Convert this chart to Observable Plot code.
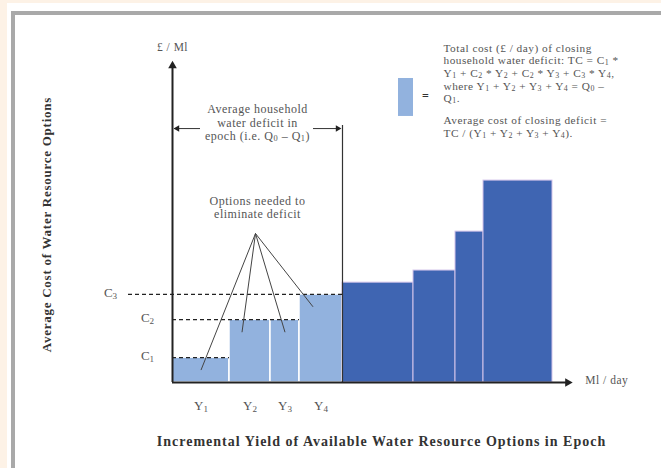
<!DOCTYPE html>
<html>
<head>
<meta charset="utf-8">
<script src="https://cdn.jsdelivr.net/npm/d3@7"></script>
<script src="https://cdn.jsdelivr.net/npm/@observablehq/plot@0.6"></script>
<style>
  html, body { margin: 0; padding: 0; }
  body { width: 661px; height: 468px; background: #fdf2e6; position: relative; overflow: hidden; }
  #paper { position: absolute; left: 7px; top: 3px; width: 660px; height: 470px; background: #fff; }
  #frame { position: absolute; left: 11px; top: 11px; width: 660px; height: 470px;
           border-left: 4px solid #a9a9a9; border-top: 4px solid #a9a9a9; }
  #chart { position: absolute; left: 0; top: 0; }
</style>
</head>
<body>
<div id="paper"></div>
<div id="frame"></div>
<div id="chart"></div>
<script>
// ---- data ----
const optionLabels = ["Y₁", "Y₂", "Y₃", "Y₄", "", "", "", ""];
const yieldBounds = [0, 14.25, 24.5, 31.75, 42.5, 60.25, 70.75, 77.75, 95];
const optionCosts = [7.8, 19.7, 19.7, 27.6, 31.3, 35.1, 47.3, 63.3];
const neededForDeficit = [true, true, true, true, false, false, false, false];
const costLabels = ["C₁", "C₂", "C₃"];
const costLevels = [7.8, 19.7, 27.6];
const deficitYield = 42.5;

const options = optionCosts.map((c, i) => ({
  label: optionLabels[i], x1: yieldBounds[i], x2: yieldBounds[i + 1], cost: c, needed: neededForDeficit[i]
}));
const needed = options.filter(d => d.needed);
const others = options.filter(d => !d.needed);

// dashed cost guides: each C level extends from the axis to the end of its last option
const guides = costLevels.map((c, i) => {
  const last = options.filter(d => d.needed && d.cost === c).pop();
  return {label: costLabels[i], c, from: i === 2 ? -11 : 0, to: last.x2};
});

const FONT = "Liberation Serif, Times New Roman, serif";
const TXT = "#555";

const apex = {x: 20.75, y: 46.7};
const pointerTargets = needed.map((d, i) => ({
  x: (d.x1 + d.x2) / 2 + [0, -2, 0, -2][i], y: d.cost * [0.5, 0.8, 0.8, 0.86][i]
}));

const legendText1 = "Total cost (£ / day) of closing\nhousehold water deficit: TC = C₁ *\nY₁ + C₂ * Y₂ + C₂ * Y₃ + C₃ * Y₄,\nwhere Y₁ + Y₂ + Y₃ + Y₄ = Q₀ –\nQ₁.";
const legendText2 = "Average cost of closing deficit =\nTC / (Y₁ + Y₂ + Y₃ + Y₄).";

const chart = Plot.plot({
  width: 661,
  height: 468,
  marginLeft: 172,
  marginRight: 89,
  marginTop: 63,
  marginBottom: 86,
  x: {domain: [0, 100], axis: null},
  y: {domain: [0, 100], axis: null},
  style: {background: "transparent", fontFamily: FONT, overflow: "visible"},
  marks: [
    // bars
    Plot.rect(needed, {x1: "x1", x2: "x2", y1: 0, y2: "cost", fill: "#92b2de", stroke: "#ffffff", strokeWidth: 1.5, inset: 0}),
    Plot.rect(others, {x1: "x1", x2: "x2", y1: 0, y2: "cost", fill: "#3f65b2", stroke: "#d3c4ea", strokeWidth: 1, inset: 0}),
    // dashed cost guides
    Plot.ruleY(guides, {y: "c", x1: "from", x2: "to", stroke: "#222", strokeWidth: 1.3, strokeDasharray: "4,3"}),
    Plot.text(guides, {x: d => d.from === 0 ? -6.25 : -15.5, y: "c", text: "label", dy: -2, fontSize: 13, fill: TXT, fontFamily: FONT}),
    // deficit boundary
    Plot.ruleX([deficitYield], {y1: 0, y2: 80.6, stroke: "#333", strokeWidth: 1.2}),
    // axes
    Plot.ruleX([0], {y1: 0, y2: 99, stroke: "#222", strokeWidth: 2}),
    Plot.ruleY([0], {x1: 0, x2: 98.5, stroke: "#222", strokeWidth: 2}),
    Plot.dot([[0, 99.3]], {x: d => d[0], y: d => d[1], symbol: "triangle", r: 3.2, fill: "#222", stroke: "none"}),
    Plot.dot([[98.8, 0]], {x: d => d[0], y: d => d[1], symbol: "triangle", r: 3.2, fill: "#222", stroke: "none", rotate: 90}),
    Plot.text(["£ / Ml"], {x: 0, y: 105, text: d => d, fontSize: 11.5, fill: TXT, fontFamily: FONT, ariaDescription: "wide"}),
    Plot.text(["Ml / day"], {x: 103.2, y: 0.6, text: d => d, textAnchor: "start", fontSize: 11.5, fill: TXT, fontFamily: FONT, ariaDescription: "wide"}),
    // option labels under bars
    Plot.text(needed, {x: d => (d.x1 + d.x2) / 2, y: -7.2, text: "label", fontSize: 13, fill: TXT, fontFamily: FONT}),
    // deficit arrow
    Plot.ruleY([79.6], {x1: 0.5, x2: 7, stroke: "#333", strokeWidth: 1}),
    Plot.ruleY([79.6], {x1: 35.25, x2: 42, stroke: "#333", strokeWidth: 1}),
    Plot.dot([[1.2, 79.6]], {x: d => d[0], y: d => d[1], symbol: "triangle", r: 2.4, fill: "#222", stroke: "none", rotate: -90}),
    Plot.dot([[41.3, 79.6]], {x: d => d[0], y: d => d[1], symbol: "triangle", r: 2.4, fill: "#222", stroke: "none", rotate: 90}),
    Plot.text(["Average household\nwater deficit in\nepoch (i.e. Q₀ – Q₁)"], {x: 21.25, y: 81.5, text: d => d, fontSize: 12, lineHeight: 1.12, fill: TXT, fontFamily: FONT, ariaDescription: "wide"}),
    // options pointer
    Plot.text(["Options needed to\neliminate deficit"], {x: 21.25, y: 54.9, text: d => d, fontSize: 12, lineHeight: 1.06, fill: TXT, fontFamily: FONT, ariaDescription: "wide"}),
    Plot.link(pointerTargets, {x1: apex.x, y1: apex.y, x2: "x", y2: "y", stroke: "#444", strokeWidth: 1}),
    // legend
    Plot.rect([0], {x1: 56.5, x2: 60.25, y1: 83.4, y2: 95.3, fill: "#92b2de"}),
    Plot.text(["="], {x: 63.25, y: 89.8, text: d => d, fontSize: 12, fontWeight: "bold", fill: "#333", fontFamily: FONT}),
    Plot.text([legendText1], {x: 67.75, y: 97, text: d => d, textAnchor: "start", fontSize: 11.3, lineHeight: 1.12, fill: TXT, fontFamily: FONT, ariaDescription: "wide"}),
    Plot.text([legendText2], {x: 67.75, y: 80.3, text: d => d, textAnchor: "start", fontSize: 11.3, lineHeight: 1.12, fill: TXT, fontFamily: FONT, ariaDescription: "wide"}),
    // axis titles
    Plot.text(["Average Cost of Water Resource Options"], {x: -31.5, y: 49.5, text: d => d, rotate: -90, fontSize: 13, fontWeight: "bold", fill: "#333", fontFamily: FONT, ariaDescription: "ytitle"}),
    Plot.text(["Incremental Yield of Available Water Resource Options in Epoch"], {x: 52.25, y: -18.5, text: d => d, fontSize: 14, fontWeight: "bold", fill: "#333", fontFamily: FONT, ariaDescription: "xtitle"})
  ]
});

// letter spacing for the wide serif look (inherited by the texts of each mark group)
const svg = d3.select(chart);
svg.selectAll('[aria-description="wide"]').style("letter-spacing", "0.5px");
svg.selectAll('[aria-description="ytitle"]').style("letter-spacing", "0.75px");
svg.selectAll('[aria-description="xtitle"]').style("letter-spacing", "1px");

// render unicode subscript digits as real lowered small digits
const SUB = "₀₁₂₃₄₅₆₇₈₉";
function subscriptify(el) {
  const txt = el.textContent;
  if (![...txt].some(ch => SUB.includes(ch))) return;
  el.textContent = "";
  const runs = [];
  for (const ch of txt) {
    const isSub = SUB.includes(ch);
    const c = isSub ? String(SUB.indexOf(ch)) : ch;
    if (runs.length && runs[runs.length - 1].sub === isSub) runs[runs.length - 1].t += c;
    else runs.push({sub: isSub, t: c});
  }
  for (const r of runs) {
    const ts = document.createElementNS("http://www.w3.org/2000/svg", "tspan");
    ts.textContent = r.t;
    if (r.sub) {
      ts.setAttribute("font-size", "70%");
      ts.setAttribute("baseline-shift", "-18%");
    }
    el.appendChild(ts);
  }
}
chart.querySelectorAll("text").forEach(t => {
  const spans = t.querySelectorAll("tspan");
  if (spans.length) spans.forEach(subscriptify);
  else subscriptify(t);
});

document.getElementById("chart").appendChild(chart);
</script>
</body>
</html>
